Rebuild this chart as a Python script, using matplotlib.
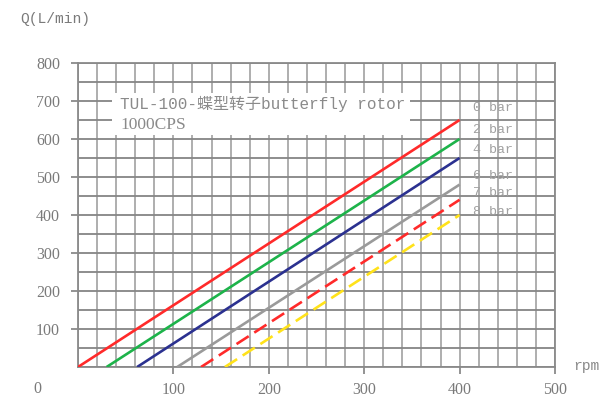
import matplotlib
matplotlib.use("Agg")
import matplotlib.pyplot as plt
from matplotlib.patches import Rectangle

# pressure curves: start rpm (Q=0) and flow at 400 rpm
labels = ['0 bar', '2 bar', '4 bar', '6 bar', '7 bar', '8 bar']
rpm_start = [0, 30, 62, 104, 129, 154]
rpm_end = [400, 400, 400, 400, 400, 400]
q_end = [650, 600, 550, 480, 440, 400]
colors = ['#ff2a2a', '#1db34a', '#2b3190', '#9a9a9a', '#ff2a2a', '#ffe21a']
styles = ['-', '-', '-', '-', '--', '--']

x_ticks = [100, 200, 300, 400, 500]
y_ticks = [100, 200, 300, 400, 500, 600, 700, 800]

label_y = [108, 130, 150, 176, 193, 212]  # pixel rows of bar labels

W, H = 605, 399
fig = plt.figure(figsize=(W / 100, H / 100), dpi=100)
ax = fig.add_axes([78 / W, 1 - 367 / H, (555 - 78) / W, (367 - 63) / H])

ax.set_xlim(0, 500)
ax.set_ylim(0, 800)
ax.set_xticks(x_ticks)
ax.set_yticks(y_ticks)
ax.set_xticks(range(0, 501, 20), minor=True)
ax.set_yticks(range(0, 801, 50), minor=True)
ax.tick_params(which='minor', length=0)
ax.tick_params(which='major', length=5, width=1.3, color='#8a8a8a',
               labelcolor='#7a7a7a', labelsize=11.5, pad=6)
ax.tick_params(axis='y', pad=8)
for lab in ax.get_xticklabels() + ax.get_yticklabels():
    lab.set_family('Liberation Serif')

ax.set_axisbelow(True)
ax.grid(axis='x', which='both', color='#a8a8a8', linewidth=1.3)
ax.grid(axis='y', which='both', color='#858585', linewidth=1.3)
for sp in ax.spines.values():
    sp.set_color('#8a8a8a')
    sp.set_linewidth(1.3)

# white label box over the grid
ax.add_patch(Rectangle((35.6, 610), 312.5, 111, facecolor='white',
                       edgecolor='none', zorder=1))

for x0, x1, q, c, ls in zip(rpm_start, rpm_end, q_end, colors, styles):
    ax.plot([x0, x1], [0, q], color=c, linestyle=ls, linewidth=1.9,
            dashes=(5.5, 2.5) if ls == '--' else (None, None), zorder=3,
            solid_capstyle='butt')

fam = ['Liberation Mono', 'Noto Sans CJK SC']
for lab, py in zip(labels, label_y):
    fig.text(473 / W, 1 - py / H, lab, fontsize=9.5, color='#a0a0a0',
             family=fam, va='center', ha='left')

fig.text(120 / W, 1 - 104 / H, 'TUL-100-蝶型转子butterfly rotor', fontsize=11.5,
         color='#8a8a8a', family=fam, va='center', ha='left')
fig.text(120 / W, 1 - 125 / H, '1000CPS', fontsize=12.5, color='#8a8a8a',
         family='Liberation Serif', va='center', ha='left')

fig.text(20 / W, 1 - 19 / H, 'Q(L/min)', fontsize=10.5, color='#7a7a7a',
         family=fam, va='center', ha='left')
fig.text(573 / W, 1 - 366 / H, 'rpm', fontsize=10.5, color='#8a8a8a',
         family=fam, va='center', ha='left')
fig.text(37 / W, 1 - 389 / H, '0', fontsize=11.5, color='#7a7a7a',
         family='Liberation Serif', va='center', ha='center')

fig.savefig('out.png', dpi=100)
